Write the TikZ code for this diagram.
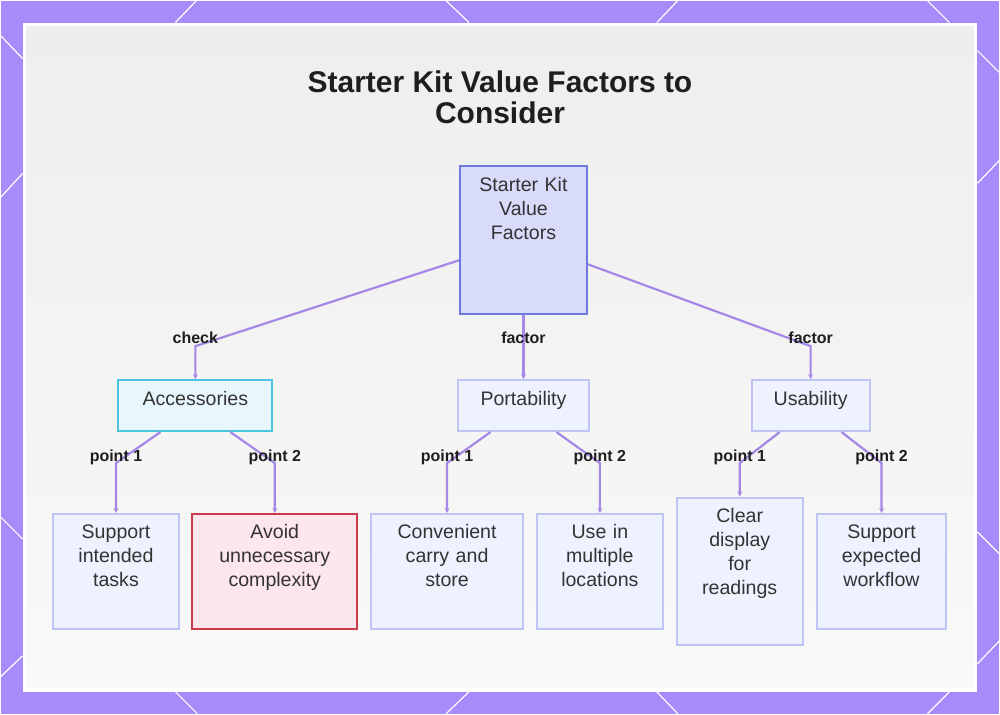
\documentclass[tikz,border=0pt]{standalone}
\usepackage{fontspec}
\setmainfont{Liberation Sans}
\usetikzlibrary{arrows.meta, positioning}

\definecolor{framebg}{HTML}{A78BFA}
\definecolor{paneltop}{HTML}{EDEEEE}
\definecolor{panelbot}{HTML}{F9F9F7}
\definecolor{rootfill}{HTML}{D8DBFA}
\definecolor{rootline}{HTML}{6E78DC}
\definecolor{accfill}{HTML}{E8F7FD}
\definecolor{accline}{HTML}{4EC5E0}
\definecolor{leaffill}{HTML}{EEF1FE}
\definecolor{leafline}{HTML}{BEC4F4}
\definecolor{warnfill}{HTML}{FDE6EC}
\definecolor{warnline}{HTML}{C83C4B}
\definecolor{edgecol}{HTML}{A587E6}
\definecolor{textdark}{HTML}{333333}
\definecolor{titletext}{HTML}{1E1E1E}

\begin{document}
\begin{tikzpicture}[
		x=1pt, y=-1pt,
		>=Stealth,
		node distance=12pt,
		box/.style={draw, line width=2pt, align=center, inner xsep=0pt, inner ysep=11pt,
			text height=14pt, text=textdark, font=\fontsize{19.6}{24}\selectfont},
		rootbox/.style={box, fill=rootfill, draw=rootline},
		accbox/.style={box, fill=accfill, draw=accline},
		midbox/.style={box, fill=leaffill, draw=leafline},
		leaf/.style={box, fill=leaffill, draw=leafline, text depth=79pt},
		warnleaf/.style={box, fill=warnfill, draw=warnline, text depth=79pt},
		edge/.style={draw=edgecol, line width=2.2pt, -{Stealth[length=5pt, width=5pt]}},
		lbl/.style={font=\fontsize{16}{18}\bfseries, text=titletext, inner sep=0pt},
	]
		% Frame and panel
		\fill[framebg] (0,0) rectangle (1000,714);
		\foreach \xa/\ya/\xb/\yb in {196/0/175/22, 446/0/469/22, 678/0/657/22, 928/0/950/22,
			175/692/197/714, 469/692/446/714, 657/692/678/714, 950/692/928/714,
			0/35/22/58, 0/197/22/173, 0/517/22/539, 0/677/22/656,
			978/50/1000/72, 978/183/1000/160, 978/532/1000/554, 978/664/1000/641}
			\draw[white, line width=1.2pt] (\xa,\ya) -- (\xb,\yb);
		\fill[white] (22,22) rectangle (978,692);
		\shade[top color=paneltop, bottom color=panelbot] (26,26) rectangle (974,688);
		\useasboundingbox (0,0) rectangle (1000,714);

		% Title
		\node[font=\fontsize{30}{31}\bfseries, text=titletext, align=center] (title) at (500,97)
			{Starter Kit Value Factors to\\Consider};

		% Root and first level
		\node[rootbox, anchor=north, text width=127pt, text depth=112pt] (root) at (523.5,165)
			{Starter Kit\\Value\\Factors};
		\node[accbox, anchor=north, text width=154pt, text depth=15pt] (acc) at (195,379) {Accessories};
		\node[midbox, below=64pt of root, text width=131pt, text depth=15pt] (port) {Portability};
		\node[midbox, anchor=north, text width=118pt, text depth=15pt] (usab) at (811,379) {Usability};

		% Leaves
		\node[leaf, anchor=north, text width=127pt] (tasks) at (115.5,513) {Support\\intended\\tasks};
		\node[warnleaf, right=11pt of tasks, text width=165pt] (avoid) {Avoid\\unnecessary\\complexity};
		\node[leaf, right=of avoid, text width=152pt] (carry) {Convenient\\carry and\\store};
		\node[leaf, right=of carry, text width=126pt] (places) {Use in\\multiple\\locations};
		\node[leaf, right=of places, text width=126pt, text depth=112pt] (display) {Clear\\display\\for\\readings};
		\node[leaf, right=of display, text width=130pt] (flow) {Support\\expected\\workflow};

		% Connectors
		\coordinate (lvl1) at (0,346);
		\coordinate (lvl2) at (0,463);
		\draw[edge] ([yshift=-20pt]root.west) -- (acc.north |- lvl1) node[lbl, above=1pt] {check} -- (acc.north);
		\draw[edge] (root.south) -- node[lbl, pos=0.36] {factor} (port.north);
		\draw[edge] ([yshift=-24pt]root.east) -- (usab.north |- lvl1) node[lbl, above=1pt] {factor} -- (usab.north);

		\draw[edge] ([xshift=-35pt]acc.south) -- (tasks.north |- lvl2) node[lbl, above=-3pt] {point 1} -- (tasks.north);
		\draw[edge] ([xshift=35pt]acc.south) -- (avoid.north |- lvl2) node[lbl, above=-3pt] {point 2} -- (avoid.north);
		\draw[edge] ([xshift=-33pt]port.south) -- (carry.north |- lvl2) node[lbl, above=-3pt] {point 1} -- (carry.north);
		\draw[edge] ([xshift=33pt]port.south) -- (places.north |- lvl2) node[lbl, above=-3pt] {point 2} -- (places.north);
		\draw[edge] ([xshift=-31pt]usab.south) -- (display.north |- lvl2) node[lbl, above=-3pt] {point 1} -- (display.north);
		\draw[edge] ([xshift=31pt]usab.south) -- (flow.north |- lvl2) node[lbl, above=-3pt] {point 2} -- (flow.north);
	\end{tikzpicture}
\end{document}
